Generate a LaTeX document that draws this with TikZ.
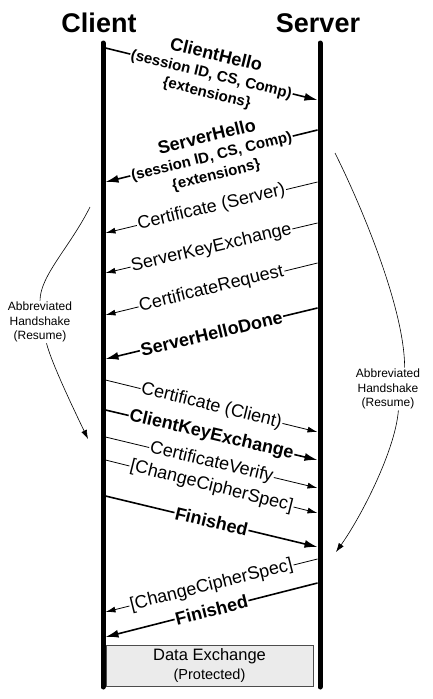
\documentclass[tikz,border=0pt]{standalone}
\usepackage{fontspec}
\setmainfont{Liberation Sans}
\usetikzlibrary{arrows.meta}

\begin{document}
\begin{tikzpicture}[x=1pt, y=-1pt, >={Latex[length=10pt, width=6pt]}, font=\fontsize{18}{21}\selectfont]
	\tikzstyle{head} = [font=\bfseries\fontsize{27}{30}\selectfont]
	\tikzstyle{life} = [line width=5pt, line cap=round]
	\tikzstyle{msg} = [->, line width=0.8pt]
	\tikzstyle{bmsg} = [-{Latex[length=13pt, width=8pt]}, line width=1.6pt]
	\tikzstyle{lbl} = [sloped, midway, fill=white, inner sep=1pt, align=center]
	\tikzstyle{blbl} = [lbl, font=\bfseries\fontsize{18}{21}\selectfont]
	\tikzstyle{note} = [align=center, inner sep=1pt, font=\fontsize{12}{14.5}\selectfont]
	\tikzstyle{resume} = [-{Latex[length=9pt, width=6pt]}, line width=0.6pt]
	
	\useasboundingbox (0, 0) rectangle (432, 699);
	
	\node[head]		at (99, 23)		(client)	{Client};
	\node[head]		at (318, 23)	(server)	{Server};
	
	% lifelines
	\coordinate (ctop) at (103, 43);	\coordinate (cbot) at (103, 687);
	\coordinate (stop) at (320, 43);	\coordinate (sbot) at (320, 687);
	\draw[life] (ctop) -- (cbot);
	\draw[life] (stop) -- (sbot);
	
	% message ends
	\coordinate (m1c) at (105.5, 48);	\coordinate (m1s) at (317.5, 100);
	\coordinate (m2s) at (317.5, 130);	\coordinate (m2c) at (105.5, 182);
	\coordinate (m3s) at (317.5, 182);	\coordinate (m3c) at (105.5, 233);
	\coordinate (m4s) at (317.5, 223);	\coordinate (m4c) at (105.5, 273);
	\coordinate (m5s) at (317.5, 263);	\coordinate (m5c) at (105.5, 315);
	\coordinate (m6s) at (317.5, 308);	\coordinate (m6c) at (105.5, 359);
	\coordinate (m7c) at (105.5, 380);	\coordinate (m7s) at (317.5, 432);
	\coordinate (m8c) at (105.5, 410);	\coordinate (m8s) at (317.5, 460);
	\coordinate (m9c) at (105.5, 437);	\coordinate (m9s) at (317.5, 488);
	\coordinate (m10c) at (105.5, 460);	\coordinate (m10s) at (317.5, 513);
	\coordinate (m11c) at (105.5, 496);	\coordinate (m11s) at (317.5, 547);
	\coordinate (m12s) at (317.5, 559);	\coordinate (m12c) at (105.5, 612);
	\coordinate (m13s) at (317.5, 583);	\coordinate (m13c) at (105.5, 637);
	
	\path
	(m1c)	edge[bmsg]	node[blbl]	{ClientHello\\[-2pt]{\fontsize{15}{17}\selectfont (session ID, CS, Comp)}\\[-2pt]{\fontsize{15}{17}\selectfont \{extensions\}}}	(m1s)
	(m2s)	edge[bmsg]	node[blbl]	{ServerHello\\[-2pt]{\fontsize{15}{17}\selectfont (session ID, CS, Comp)}\\[-2pt]{\fontsize{15}{17}\selectfont \{extensions\}}}	(m2c)
	(m3s)	edge[msg]	node[lbl]	{Certificate (Server)}	(m3c)
	(m4s)	edge[msg]	node[lbl]	{ServerKeyExchange}		(m4c)
	(m5s)	edge[msg]	node[lbl]	{CertificateRequest}	(m5c)
	(m6s)	edge[bmsg]	node[blbl]	{ServerHelloDone}		(m6c)
	(m7c)	edge[msg]	node[lbl]	{Certificate (Client)}	(m7s)
	(m8c)	edge[bmsg]	node[blbl]	{ClientKeyExchange}		(m8s)
	(m9c)	edge[msg]	node[lbl]	{CertificateVerify}		(m9s)
	(m10c)	edge[msg]	node[lbl]	{[ChangeCipherSpec]}	(m10s)
	(m11c)	edge[bmsg]	node[blbl]	{Finished}				(m11s)
	(m12s)	edge[msg]	node[lbl]	{[ChangeCipherSpec]}	(m12c)
	(m13s)	edge[bmsg]	node[blbl]	{Finished}				(m13c);
	
	\node[draw=black!70, fill=black!8, minimum width=207pt, minimum height=41pt, inner sep=0pt, align=center, font=\fontsize{16.5}{19}\selectfont]
		at (209.5, 665.5) (data) {Data Exchange\\{\fontsize{14.5}{16}\selectfont (Protected)}};
	
	% abbreviated handshake
	\node[note]		at (40, 322)	(lres)	{Abbreviated\\Handshake\\(Resume)};
	\node[note]		at (388, 389)	(rres)	{Abbreviated\\Handshake\\(Resume)};
	\coordinate (lstart) at (90, 207);	\coordinate (lend) at (88, 439);
	\coordinate (rstart) at (335, 153);	\coordinate (rend) at (336, 552);
	\draw[resume, -] (lstart) .. controls +(-20, 40) and +(0, -25) .. (lres.north);
	\draw[resume] (lres.-73) .. controls +(5, 20) and +(-12, -25) .. (lend);
	\draw[resume, -] (rstart) .. controls +(25, 50) and +(0, -60) .. (rres.52);
	\draw[resume] (rres.-64) .. controls +(-3, 40) and +(25, -35) .. (rend);
\end{tikzpicture}
\end{document}
